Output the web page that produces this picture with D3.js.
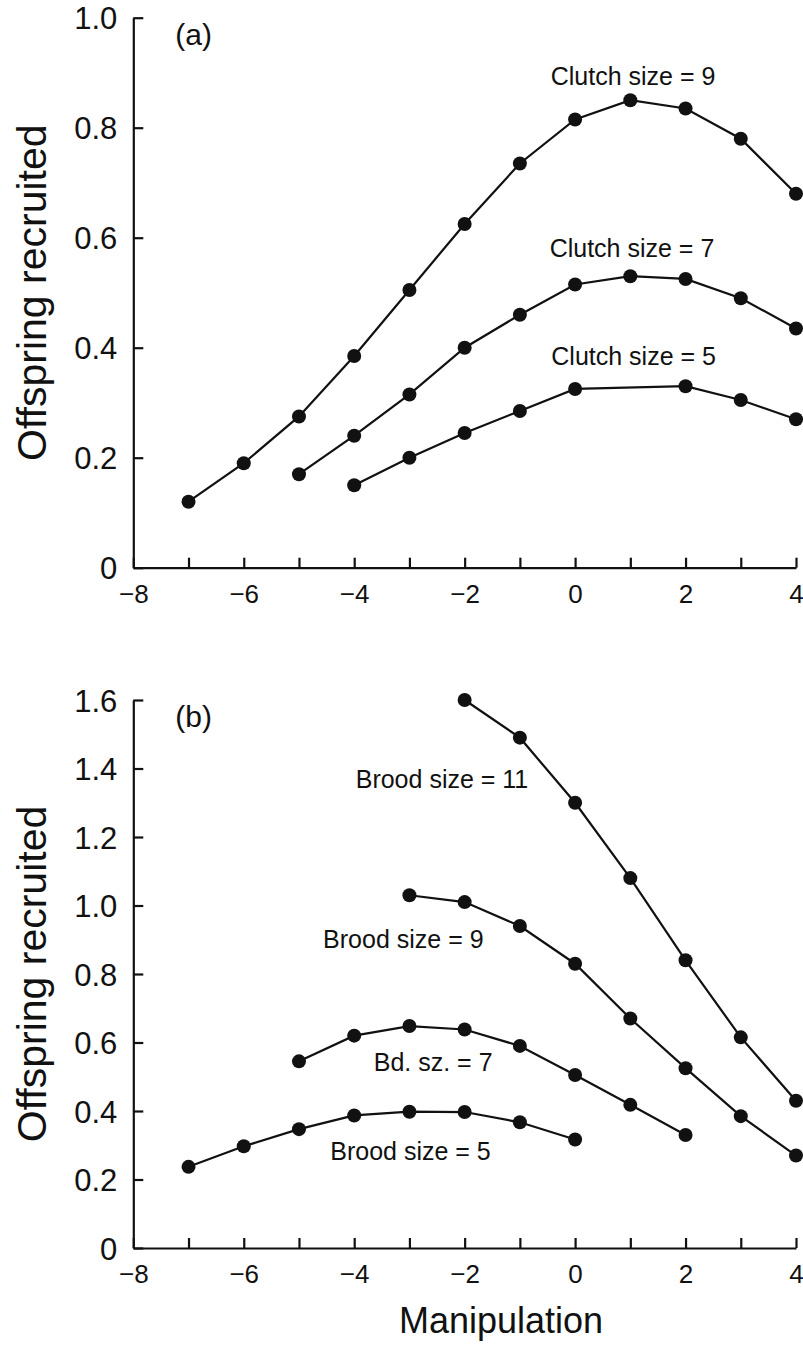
<!DOCTYPE html>
<html>
<head>
<meta charset="utf-8">
<script src="https://cdn.jsdelivr.net/npm/d3@7"></script>
<style>
  body { margin: 0; background: #fff; }
  svg { display: block; font-family: "Liberation Sans", Arial, sans-serif; }
  .axis path, .axis line { stroke: #111; stroke-width: 2.2; }
  .axis text { fill: #111; }
  .series path { fill: none; stroke: #111; stroke-width: 2.2; }
  .series circle { fill: #111; }
</style>
</head>
<body>
<svg id="chart" width="803" height="1346"></svg>
<script>
// Panel (a): clutch size manipulation
const clutch9Manip = [-7, -6, -5, -4, -3, -2, -1, 0, 1, 2, 3, 4];
const clutch9Recruited = [0.12, 0.19, 0.275, 0.385, 0.505, 0.625, 0.735, 0.815, 0.85, 0.835, 0.78, 0.68];
const clutch7Manip = [-5, -4, -3, -2, -1, 0, 1, 2, 3, 4];
const clutch7Recruited = [0.17, 0.24, 0.315, 0.40, 0.46, 0.515, 0.53, 0.525, 0.49, 0.435];
const clutch5Manip = [-4, -3, -2, -1, 0, 2, 3, 4];
const clutch5Recruited = [0.15, 0.20, 0.245, 0.285, 0.325, 0.33, 0.305, 0.27];

// Panel (b): brood size manipulation
const brood11Manip = [-2, -1, 0, 1, 2, 3, 4];
const brood11Recruited = [1.60, 1.49, 1.30, 1.08, 0.84, 0.615, 0.43];
const brood9Manip = [-3, -2, -1, 0, 1, 2, 3, 4];
const brood9Recruited = [1.03, 1.01, 0.94, 0.83, 0.67, 0.525, 0.385, 0.27];
const brood7Manip = [-5, -4, -3, -2, -1, 0, 1, 2];
const brood7Recruited = [0.545, 0.62, 0.648, 0.638, 0.59, 0.505, 0.418, 0.33];
const brood5Manip = [-7, -6, -5, -4, -3, -2, -1, 0];
const brood5Recruited = [0.237, 0.297, 0.347, 0.387, 0.398, 0.397, 0.367, 0.317];

const xTicks = [-8, -7, -6, -5, -4, -3, -2, -1, 0, 1, 2, 3, 4];
const yTicksA = [0, 0.2, 0.4, 0.6, 0.8, 1.0];
const yTicksB = [0, 0.2, 0.4, 0.6, 0.8, 1.0, 1.2, 1.4, 1.6];

const svg = d3.select('#chart');

const xScale = d3.scaleLinear().domain([-8, 4]).range([133.3, 796]);

const panels = [
  {
    letter: '(a)',
    yScale: d3.scaleLinear().domain([0, 1.0]).range([567.7, 17.7]),
    yTicks: yTicksA,
    series: [
      { x: clutch9Manip, y: clutch9Recruited, label: 'Clutch size = 9', lx: 1.05, ly: 0.878 },
      { x: clutch7Manip, y: clutch7Recruited, label: 'Clutch size = 7', lx: 1.03, ly: 0.565 },
      { x: clutch5Manip, y: clutch5Recruited, label: 'Clutch size = 5', lx: 1.06, ly: 0.368 },
    ],
  },
  {
    letter: '(b)',
    yScale: d3.scaleLinear().domain([0, 1.6]).range([1248, 700]),
    yTicks: yTicksB,
    series: [
      { x: brood11Manip, y: brood11Recruited, label: 'Brood size = 11', lx: -2.41, ly: 1.343 },
      { x: brood9Manip, y: brood9Recruited, label: 'Brood size = 9', lx: -3.11, ly: 0.876 },
      { x: brood7Manip, y: brood7Recruited, label: 'Bd. sz. = 7', lx: -2.57, ly: 0.517 },
      { x: brood5Manip, y: brood5Recruited, label: 'Brood size = 5', lx: -2.98, ly: 0.257 },
    ],
  },
];

const yFormat = (d) => (d === 0 ? '0' : d3.format('.1f')(d));

panels.forEach((panel) => {
  const { yScale } = panel;
  const [yBottom, yTop] = yScale.range();

  // x axis with inward ticks, labels on even values only
  const xAxis = d3.axisBottom(xScale)
    .tickValues(xTicks)
    .tickSizeInner(-10)
    .tickSizeOuter(0)
    .tickPadding(17)
    .tickFormat((d) => (d % 2 === 0 ? d3.format('d')(d) : ''));
  const xAxisG = svg.append('g')
    .attr('class', 'axis')
    .attr('transform', `translate(0,${yBottom})`)
    .call(xAxis);
  xAxisG.selectAll('text').style('font-size', '26px');

  // y axis with inward ticks
  const yAxis = d3.axisLeft(yScale)
    .tickValues(panel.yTicks)
    .tickSizeInner(-10)
    .tickSizeOuter(0)
    .tickPadding(16)
    .tickFormat(yFormat);
  const yAxisG = svg.append('g')
    .attr('class', 'axis')
    .attr('transform', `translate(${xScale(-8)},0)`)
    .call(yAxis);
  yAxisG.selectAll('text').style('font-size', '31px').attr('dy', '0.36em');

  // y axis title
  svg.append('text')
    .attr('transform', `translate(46,${(yBottom + yTop) / 2}) rotate(-90)`)
    .attr('text-anchor', 'middle')
    .style('font-size', '41px')
    .attr('fill', '#111')
    .text('Offspring recruited');

  // panel letter
  svg.append('text')
    .attr('x', xScale(-8) + 42)
    .attr('y', yTop + 27)
    .style('font-size', '30px')
    .attr('fill', '#111')
    .text(panel.letter);

  const lineGen = d3.line()
    .x((d) => xScale(d[0]))
    .y((d) => yScale(d[1]));

  panel.series.forEach((s) => {
    const pts = s.x.map((xv, i) => [xv, s.y[i]]);
    const g = svg.append('g').attr('class', 'series');
    g.append('path').attr('d', lineGen(pts));
    g.selectAll('circle')
      .data(pts)
      .enter()
      .append('circle')
      .attr('r', 7)
      .attr('cx', (d) => xScale(d[0]))
      .attr('cy', (d) => yScale(d[1]));

    svg.append('text')
      .attr('x', xScale(s.lx))
      .attr('y', yScale(s.ly))
      .attr('text-anchor', 'middle')
      .style('font-size', '25px')
      .attr('fill', '#111')
      .text(s.label);
  });
});

// shared x axis title
svg.append('text')
  .attr('x', 501)
  .attr('y', 1333)
  .attr('text-anchor', 'middle')
  .style('font-size', '36px')
  .attr('fill', '#111')
  .text('Manipulation');
</script>
</body>
</html>
